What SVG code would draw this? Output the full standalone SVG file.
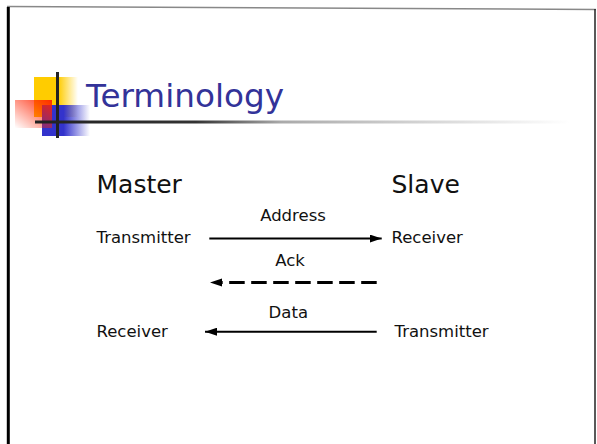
<svg xmlns="http://www.w3.org/2000/svg" width="597" height="444" viewBox="0 0 597 444">
<style>
.lbl{font-family:"DejaVu Sans",Verdana,sans-serif;font-size:16.5px;fill:#111}
.big{font-family:"DejaVu Sans",Verdana,sans-serif;font-size:25px;fill:#111}
.title{font-family:"DejaVu Sans",Verdana,sans-serif;font-size:32px;fill:#333399}
.arr{stroke:#000;stroke-width:2;fill:none}
.dash{stroke:#000;stroke-width:3;fill:none;stroke-dasharray:15.5 6.5}
</style>
<defs>
<marker id="ah" viewBox="0 0 12 8" refX="12" refY="4" markerWidth="12" markerHeight="8" markerUnits="userSpaceOnUse" orient="auto">
<path d="M0,0 L12,4 L0,8 Z" fill="#000"/>
</marker>
<linearGradient id="gY" x1="0" y1="0" x2="1" y2="0">
<stop offset="0" stop-color="#ffcc00"/>
<stop offset="0.55" stop-color="#ffcc00"/>
<stop offset="1" stop-color="#ffcc00" stop-opacity="0"/>
</linearGradient>
<linearGradient id="gB" x1="0" y1="0" x2="1" y2="0">
<stop offset="0" stop-color="#3333cc"/>
<stop offset="0.45" stop-color="#3333cc"/>
<stop offset="1" stop-color="#3333cc" stop-opacity="0"/>
</linearGradient>
<linearGradient id="gR" x1="1" y1="0" x2="0" y2="1">
<stop offset="0" stop-color="#ff2200" stop-opacity="0.95"/>
<stop offset="1" stop-color="#ff2200" stop-opacity="0"/>
</linearGradient>
<linearGradient id="gL" gradientUnits="userSpaceOnUse" x1="35" y1="0" x2="570" y2="0">
<stop offset="0" stop-color="#222"/>
<stop offset="0.3" stop-color="#333"/>
<stop offset="0.46" stop-color="#aaa"/>
<stop offset="1" stop-color="#fff"/>
</linearGradient>
</defs>
<rect width="597" height="444" fill="#fff"/>
<g id="frame">
<line x1="7" y1="6.5" x2="596" y2="9.5" stroke="#888" stroke-width="1.5"/>
<line x1="8.3" y1="7" x2="8.3" y2="444" stroke="#000" stroke-width="3"/>
<line x1="595" y1="9" x2="595" y2="444" stroke="#222" stroke-width="1.5"/>
</g>
<g id="logo">
<rect x="34" y="77" width="44" height="40" fill="url(#gY)"/>
<rect x="42" y="105" width="48" height="31" fill="url(#gB)"/>
<rect x="15" y="100" width="37" height="28" fill="url(#gR)"/>
<line x1="57.5" y1="72" x2="57.5" y2="138" stroke="#222" stroke-width="3"/>
<line x1="35" y1="122" x2="570" y2="122" stroke="url(#gL)" stroke-width="3"/>
</g>
<g id="title">
<text class="title" x="86" y="107" textLength="198" lengthAdjust="spacingAndGlyphs">Terminology</text>
</g>
<g id="master"><text class="big" x="96.5" y="193.3">Master</text></g>
<g id="slave"><text class="big" x="391.5" y="193.3">Slave</text></g>
<g id="master-transmitter"><text class="lbl" x="96.5" y="243.3">Transmitter</text></g>
<g id="slave-receiver"><text class="lbl" x="391.5" y="243.3">Receiver</text></g>
<g id="master-receiver"><text class="lbl" x="96.5" y="336.7">Receiver</text></g>
<g id="slave-transmitter"><text class="lbl" x="394.5" y="336.7">Transmitter</text></g>
<g id="connectors">
<line class="arr" x1="209.3" y1="238.5" x2="381.7" y2="238.5" marker-end="url(#ah)"/>
<line class="dash" x1="376.7" y1="282.5" x2="222" y2="282.5"/>
<path d="M222,278.5 L210,282.5 L222,286.5 Z" fill="#000"/>
<line class="arr" x1="376.7" y1="331.7" x2="205" y2="331.7" marker-end="url(#ah)"/>
<text class="lbl" x="293" y="221" text-anchor="middle">Address</text>
<text class="lbl" x="290" y="266" text-anchor="middle">Ack</text>
<text class="lbl" x="288.3" y="318.3" text-anchor="middle">Data</text>
</g>
</svg>
